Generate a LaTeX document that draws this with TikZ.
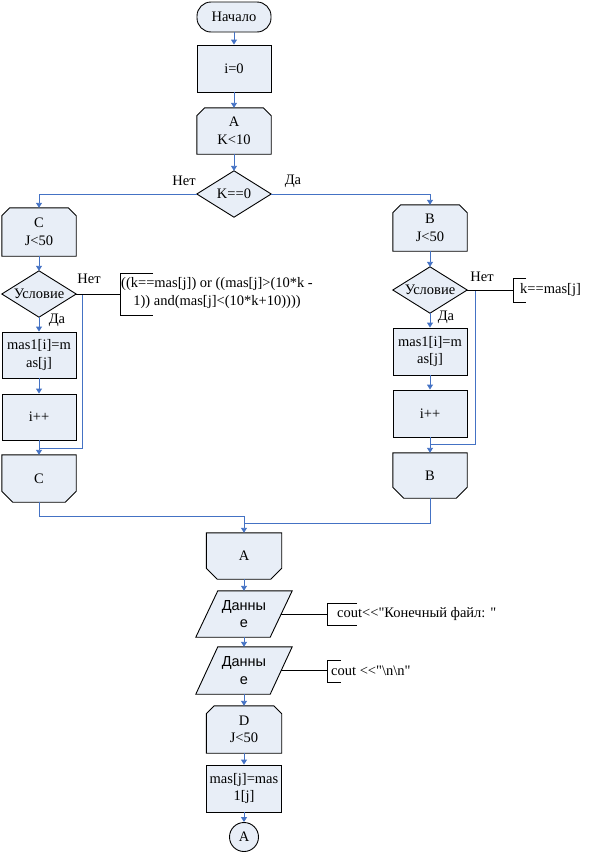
\documentclass[tikz,border=0pt]{standalone}
\usepackage{fontspec}
\setmainfont{Liberation Serif}[Ligatures=TeXOff]
\newfontfamily\sansf{Liberation Sans}
\usetikzlibrary{arrows.meta,calc}
\definecolor{boxfill}{RGB}{232,238,247}
\definecolor{flowblue}{RGB}{68,114,196}
\pgfdeclarelayer{bg}
\pgfsetlayers{bg,main}
\tikzset{
 txt/.style={font=\fontsize{14.5}{17.5}\selectfont, align=center, inner sep=0pt},
 bx/.style={txt, minimum width=74pt, minimum height=46pt},
 shp/.style={draw=black, fill=boxfill, line width=0.9pt},
 rbox/.style={bx, shp},
 flow/.style={draw=flowblue, line width=0.9pt, -{Triangle[length=5pt,width=6pt]}},
 flowline/.style={draw=flowblue, line width=0.9pt},
 note/.style={draw=black, line width=0.9pt},
 lbl/.style={font=\fontsize{14.5}{17.5}\selectfont, inner sep=0pt},
}
\newcommand\ShpLS[1]{\begin{pgfonlayer}{bg}\path[shp] (#1.south west) -- ($(#1.north west)+(0,8)$) -- ($(#1.north west)+(8,0)$) -- ($(#1.north east)+(-8,0)$) -- ($(#1.north east)+(0,8)$) -- (#1.south east) -- cycle;\end{pgfonlayer}}
\newcommand\ShpLE[1]{\begin{pgfonlayer}{bg}\path[shp] (#1.north west) -- ($(#1.south west)+(0,-11)$) -- ($(#1.south west)+(11,0)$) -- ($(#1.south east)+(-11,0)$) -- ($(#1.south east)+(0,-11)$) -- (#1.north east) -- cycle;\end{pgfonlayer}}
\newcommand\ShpDia[1]{\begin{pgfonlayer}{bg}\path[shp] (#1.north) -- (#1.east) -- (#1.south) -- (#1.west) -- cycle;\end{pgfonlayer}}
\newcommand\ShpPar[1]{\begin{pgfonlayer}{bg}\path[shp] ($(#1.south west)+(-11,0)$) -- ($(#1.north west)+(11,0)$) -- ($(#1.north east)+(11,0)$) -- ($(#1.south east)+(-11,0)$) -- cycle;\end{pgfonlayer}}
\begin{document}
\begin{tikzpicture}[x=1pt,y=-1pt]
\useasboundingbox (0,0) rectangle (592,854);
% main column top
\node[txt, shp, rounded corners=14pt, minimum width=74pt, minimum height=30pt] (st) at (234,17) {Начало};
\node[rbox, minimum height=47pt] (i0) at (234,68.5) {i=0};
\node[bx] (As) at (234,131) {A\\K<10}; \ShpLS{As}
\node[bx] (k0) at (234,194) {K==0}; \ShpDia{k0}
% left branch
\node[bx, minimum height=48pt] (Cs) at (39,232) {C\\J<50}; \ShpLS{Cs}
\node[bx] (uL) at (39,294) {Условие}; \ShpDia{uL}
\node[rbox] (mL) at (39,355) {mas1[i]=m\\as[j]};
\node[rbox] (pL) at (39,417) {i++};
\node[bx, minimum height=47pt] (Ce) at (39,478.5) {C}; \ShpLE{Ce}
% right branch
\node[bx] (Bs) at (430,228) {B\\J<50}; \ShpLS{Bs}
\node[bx] (uR) at (430,290) {Условие}; \ShpDia{uR}
\node[rbox, minimum height=47pt] (mR) at (430,351.5) {mas1[i]=m\\as[j]};
\node[rbox, minimum height=47pt] (pR) at (430,413.5) {i++};
\node[bx, minimum height=45pt] (Be) at (430,475.5) {B}; \ShpLE{Be}
% lower column
\node[bx, minimum width=75pt] (Ae) at (244,556) {A}; \ShpLE{Ae}
\node[bx] (d1) at (244,614) {\sansf Данны\\\sansf е}; \ShpPar{d1}
\node[bx, minimum height=47pt] (d2) at (244,670.5) {\sansf Данны\\\sansf е}; \ShpPar{d2}
\node[bx, minimum width=75pt, minimum height=47pt] (Ds) at (244,729.5) {D\\J<50}; \ShpLS{Ds}
\node[rbox, minimum width=75pt, minimum height=47pt] (mm) at (244,788.5) {mas[j]=mas\\1[j]};
\node[txt, shp, circle, minimum size=29pt] (cA) at (244,837) {A};
% coordinates
\coordinate (nL) at (82,448);
\coordinate (jL) at (39,448);
\coordinate (nR) at (475,444);
\coordinate (jR) at (430,444);
\coordinate (m1) at (244,516);
\coordinate (m2) at (244,523);
% flow connectors
\draw[flow] (st) -- (i0);
\draw[flow] (i0) -- (As);
\draw[flow] (As) -- (k0.north);
\draw[flow] (k0.west) -| (Cs.north);
\draw[flow] (k0.east) -| (Bs.north);
\draw[flow] (Cs) -- (uL.north);
\draw[flow] (uL.south) -- (mL);
\draw[flow] (mL) -- (pL);
\draw[flow] (pL) -- (Ce);
\draw[flowline] (uL.east) -| (nL) -- (jL);
\draw[flow] (Bs) -- (uR.north);
\draw[flow] (uR.south) -- (mR);
\draw[flow] (mR) -- (pR);
\draw[flow] (pR) -- (Be);
\draw[flowline] (uR.east) -| (nR) -- (jR);
\draw[flow] (Ce.south) |- (m1) -- (Ae.north);
\draw[flowline] (Be.south) |- (m2);
\draw[flow] (Ae) -- (d1);
\draw[flow] (d1) -- (d2);
\draw[flow] (d2) -- (Ds);
\draw[flow] (Ds) -- (mm);
\draw[flow] (mm) -- (cA);
% labels
\node[lbl] (l1) at (184,181) {Нет};
\node[lbl] (l2) at (293,181) {Да};
\node[lbl] (l3) at (89,279) {Нет};
\node[lbl] (l4) at (57,320) {Да};
\node[lbl] (l5) at (482,277) {Нет};
\node[lbl] (l6) at (446,317) {Да};
% annotations
\coordinate (b1) at (120,294);
\draw[note] (uL.east) -- (b1);
\draw[note] (153,273) -- (120,273) -- (120,315) -- (153,315);
\node[txt] (t1) at (217,293) {((k==mas[j]) or ((mas[j]>(10*k -\\1)) and(mas[j]<(10*k+10))))};
\coordinate (b2) at (513,290);
\draw[note] (uR.east) -- (b2);
\draw[note] (526,278) -- (513,278) -- (513,302) -- (526,302);
\node[txt, anchor=west] (t2) at (520,290) {k==mas[j]};
\coordinate (b3) at (327,614);
\draw[note] (d1.east) -- (b3);
\draw[note] (357,603) -- (327,603) -- (327,625) -- (357,625);
\node[txt, anchor=west] (t3) at (337,614) {cout<<"Конечный файл: "};
\coordinate (b4) at (327,670.5);
\draw[note] (d2.east) -- (b4);
\draw[note] (341,660) -- (327,660) -- (327,682) -- (341,682);
\node[txt, anchor=west] (t4) at (331,671) {cout <<"\textbackslash n\textbackslash n"};
\end{tikzpicture}
\end{document}
